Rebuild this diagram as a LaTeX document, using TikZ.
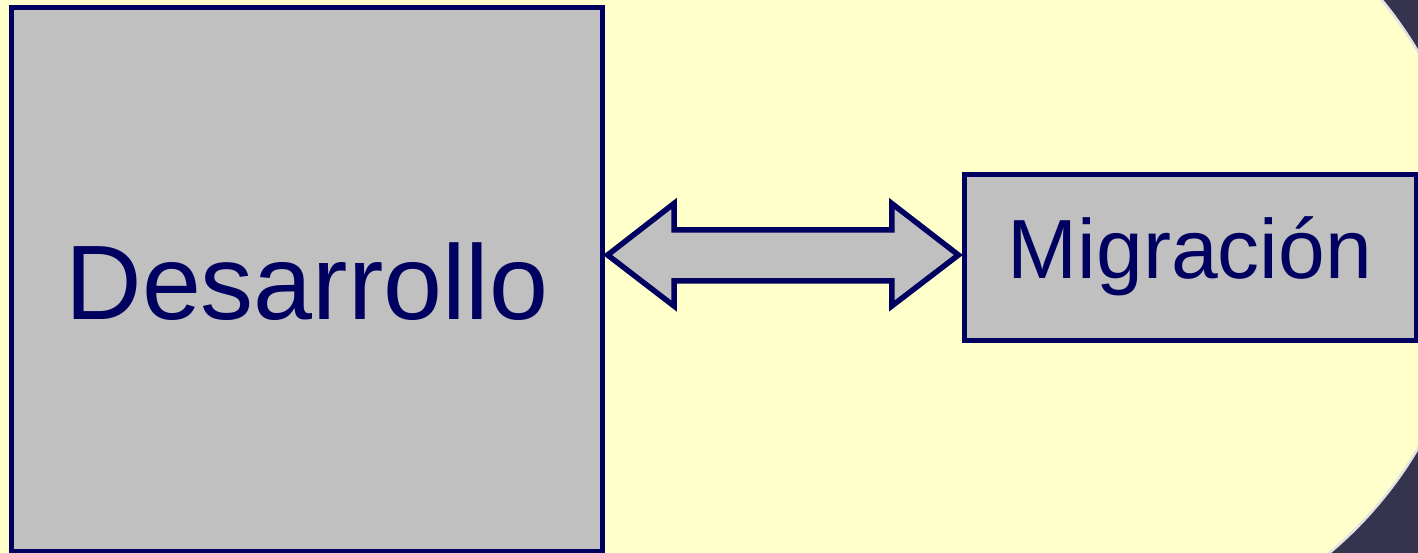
\documentclass[tikz,border=0pt]{standalone}
\usepackage{fontspec}
\setmainfont{Liberation Sans}
\definecolor{bgyellow}{RGB}{255,255,204}
\definecolor{navy}{RGB}{0,0,96}
\definecolor{boxgray}{RGB}{192,192,192}
\definecolor{darkbg}{RGB}{52,52,78}
\definecolor{rimgray}{RGB}{226,226,226}
\begin{document}
\begin{tikzpicture}[x=1pt,y=-1pt,
  box/.style={draw=navy,fill=boxgray,line width=5pt,rectangle,inner sep=0pt},
  lbl/.style={text=navy,anchor=base,inner sep=0pt},
  dblarrow/.style={draw=navy,fill=boxgray,line width=5.5pt,line join=miter}]
\useasboundingbox (0,0) rectangle (1418,552);
\begin{scope}
\clip (0,0) rectangle (1418,552);
\fill[darkbg] (-10,-10) rectangle (1430,570);
\filldraw[fill=bgyellow,draw=rimgray,line width=2.5pt] (1061,250) ellipse [x radius=411, y radius=400];
\fill[bgyellow] (-10,-10) rectangle (1061,570);
\end{scope}
\node[box,minimum width=590.5pt,minimum height=544.5pt] (dev) at (306.75,279.25) {};
\node[box,minimum width=452pt,minimum height=166pt] (mig) at (1190,257) {};
\node[lbl,font=\fontsize{106}{120}\selectfont] (devt) at (307,319) {Desarrollo};
\node[lbl,font=\fontsize{84}{96}\selectfont] (migt) at (1190,278.3) {Migración};
\coordinate (lt) at (607.6,255);
\coordinate (rt) at (958.4,255);
\draw[dblarrow] (lt) -- ++(66.4,-51.5) -- ++(0,26.3) -- ++(217.8,0) -- ++(0,-26.3)
  -- (rt) -- ++(-66.6,51) -- ++(0,-25.2) -- ++(-217.8,0) -- ++(0,25.2) -- cycle;
\end{tikzpicture}
\end{document}
